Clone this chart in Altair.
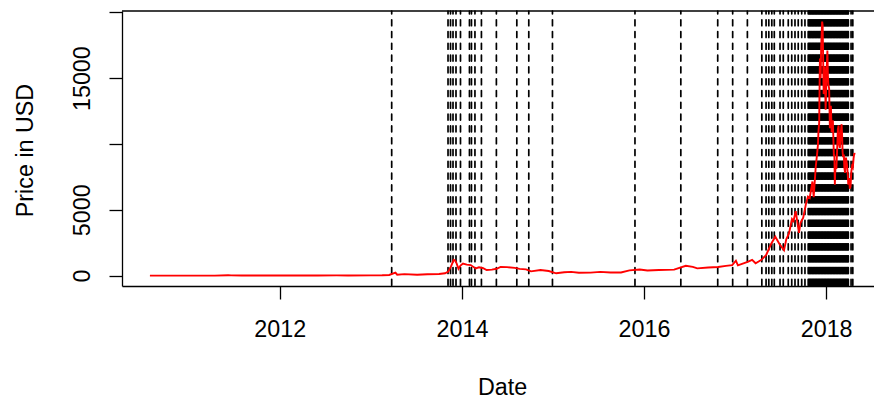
import altair as alt
import pandas as pd

# Daily-close style price samples (USD)
price_dates = [
    "2010-07-29", "2010-10-01", "2011-01-01", "2011-02-10", "2011-04-15",
    "2011-06-08", "2011-06-20", "2011-08-01", "2011-10-20", "2011-12-31",
    "2012-03-01", "2012-06-01", "2012-08-16", "2012-10-01", "2012-12-31",
    "2013-02-15", "2013-03-15", "2013-04-09", "2013-04-16", "2013-05-15",
    "2013-07-05", "2013-08-15", "2013-10-01", "2013-10-25", "2013-11-07",
    "2013-11-18", "2013-11-29", "2013-12-04", "2013-12-10", "2013-12-18",
    "2013-12-26", "2014-01-05", "2014-01-20", "2014-02-05", "2014-02-25",
    "2014-03-10", "2014-03-25", "2014-04-10", "2014-05-01", "2014-05-20",
    "2014-06-05", "2014-07-01", "2014-08-01", "2014-08-20", "2014-09-15",
    "2014-10-05", "2014-11-12", "2014-12-15", "2015-01-14", "2015-02-15",
    "2015-03-15", "2015-04-15", "2015-06-01", "2015-07-10", "2015-08-20",
    "2015-10-01", "2015-11-04", "2015-12-15", "2016-01-15", "2016-03-01",
    "2016-05-01", "2016-06-17", "2016-07-15", "2016-08-02", "2016-09-15",
    "2016-10-25", "2016-11-25", "2016-12-20", "2017-01-04", "2017-01-12",
    "2017-02-20", "2017-03-10", "2017-03-24", "2017-04-15", "2017-05-05",
    "2017-05-25", "2017-06-11", "2017-06-27", "2017-07-16", "2017-07-25",
    "2017-08-05", "2017-08-17", "2017-08-23", "2017-09-01", "2017-09-14",
    "2017-09-20", "2017-10-01", "2017-10-12", "2017-10-20", "2017-10-27",
    "2017-11-07", "2017-11-12", "2017-11-20", "2017-11-26", "2017-11-29",
    "2017-12-01", "2017-12-04", "2017-12-07", "2017-12-08", "2017-12-10",
    "2017-12-12", "2017-12-16", "2017-12-18", "2017-12-20", "2017-12-22",
    "2017-12-24", "2017-12-26", "2017-12-28", "2017-12-30", "2018-01-02",
    "2018-01-06", "2018-01-08", "2018-01-10", "2018-01-13", "2018-01-16",
    "2018-01-17", "2018-01-20", "2018-01-23", "2018-01-26", "2018-01-28",
    "2018-02-01", "2018-02-03", "2018-02-05", "2018-02-06", "2018-02-08",
    "2018-02-11", "2018-02-14", "2018-02-17", "2018-02-20", "2018-02-22",
    "2018-02-25", "2018-03-01", "2018-03-04", "2018-03-06", "2018-03-08",
    "2018-03-10", "2018-03-13", "2018-03-15", "2018-03-18", "2018-03-20",
    "2018-03-22", "2018-03-25", "2018-03-28", "2018-03-31", "2018-04-03",
    "2018-04-06", "2018-04-09", "2018-04-12", "2018-04-15", "2018-04-18",
    "2018-04-21", "2018-04-24", "2018-04-26",
]
price_usd = [
    0.07, 0.06, 0.3, 1.0, 1.0,
    29.6, 17, 13, 2.3, 4.7,
    4.9, 5.3, 13.5, 12.4, 13.5,
    27, 47, 230, 68, 115,
    70, 100, 125, 180, 300,
    700, 1200, 1150, 950, 520,
    760, 920, 830, 800, 540,
    630, 580, 420, 450, 520,
    660, 640, 590, 510, 470,
    320, 420, 350, 175, 250,
    285, 220, 225, 285, 235,
    237, 400, 460, 385, 430,
    450, 750, 660, 550, 610,
    650, 740, 800, 1130, 780,
    1050, 1200, 940, 1180, 1550,
    2400, 2950, 2420, 1930, 2750,
    3200, 4300, 4150, 4900, 3250,
    4000, 4400, 5450, 6000, 5900,
    7150, 5950, 8200, 9300, 9900,
    10900, 11600, 16500, 16000, 15000,
    17300, 19300, 19000, 16500, 13800,
    13900, 15900, 14500, 12600, 15000,
    17100, 15200, 14500, 14200, 11200,
    11300, 12900, 10900, 11200, 11800,
    9100, 9200, 6900, 7700, 8300,
    8100, 9500, 11100, 11400, 10000,
    9700, 10900, 11500, 10700, 9400,
    9000, 9200, 8200, 7800, 8900,
    8900, 8500, 7900, 6900, 7400,
    6600, 6800, 7900, 8300, 8200,
    8900, 9300, 9200,
]

# Detected change points
change_dates = [
    "2013-03-25", "2013-11-06", "2013-11-16", "2013-11-26", "2013-12-08",
    "2013-12-26", "2014-01-31", "2014-02-08", "2014-02-22", "2014-03-20",
    "2014-05-19", "2014-08-09", "2014-09-26", "2014-12-30", "2015-11-26",
    "2016-05-28", "2016-10-23", "2016-12-22", "2017-02-19", "2017-04-18",
    "2017-05-05", "2017-05-16", "2017-05-28", "2017-06-07", "2017-06-30",
    "2017-07-13", "2017-08-02", "2017-08-16", "2017-08-29", "2017-09-11",
    "2017-09-25", "2017-10-08",
    "2017-10-21", "2017-10-24", "2017-10-27", "2017-10-30", "2017-11-02",
    "2017-11-05", "2017-11-08", "2017-11-11", "2017-11-14", "2017-11-17",
    "2017-11-20", "2017-11-23", "2017-11-26", "2017-11-29", "2017-12-02",
    "2017-12-05", "2017-12-08", "2017-12-11", "2017-12-14", "2017-12-17",
    "2017-12-20", "2017-12-23", "2017-12-26", "2017-12-29", "2018-01-01",
    "2018-01-04", "2018-01-07", "2018-01-10", "2018-01-13", "2018-01-16",
    "2018-01-19", "2018-01-22", "2018-01-25", "2018-01-28", "2018-01-31",
    "2018-02-03", "2018-02-06", "2018-02-09", "2018-02-12", "2018-02-15",
    "2018-02-18", "2018-02-21", "2018-02-24", "2018-02-27", "2018-03-02",
    "2018-03-05", "2018-03-08", "2018-03-11", "2018-03-14", "2018-03-17",
    "2018-03-20", "2018-03-23", "2018-03-26", "2018-03-29", "2018-03-31",
    "2018-04-11", "2018-04-18",
]

year_ticks = [2012, 2014, 2016, 2018]
price_ticks = [0, 5000, 10000, 15000, 20000]
shown_price_labels = [0, 5000, 15000]

prices = pd.DataFrame({"date": price_dates, "price": price_usd})
changes = pd.DataFrame({"date": change_dates})
border = pd.DataFrame({"k": [0]})

W, H = 752, 275
FONT = "Liberation Sans"

x_scale = alt.Scale(
    type="utc",
    domain=[alt.DateTime(year=2010, month=4, date=8, utc=True),
            alt.DateTime(year=2018, month=7, date=12, utc=True)],
)
y_scale = alt.Scale(domain=[-790, 20100], nice=False, zero=False)

x_axis = alt.Axis(
    title="Date",
    values=[alt.DateTime(year=y, month=1, date=1, utc=True) for y in year_ticks],
    labelExpr="utcFormat(datum.value, '%Y')",
    labelPadding=19.7,
    labelBaseline="top",
    titleX=380,
    titleY=108.3,
    titleAlign="center",
    titleBaseline="alphabetic",
)
label_test = " || ".join(f"datum.value == {v}" for v in shown_price_labels)
y_axis = alt.Axis(
    title="Price in USD",
    values=price_ticks,
    labelExpr=f"({label_test}) ? '' + datum.value : ''",
    labelAngle=270,
    labelAlign="center",
    labelBaseline="alphabetic",
    labelPadding=19.7,
    titleAngle=270,
    titleX=-89.4,
    titleY=139,
    titleAlign="center",
    titleBaseline="alphabetic",
)

vlines = alt.Chart(changes).mark_rule(
    color="black", strokeWidth=1.7, strokeDash=[5.9, 5.9],
    strokeDashOffset=3.06, strokeCap="round",
).encode(
    x=alt.X("date:T", scale=x_scale, axis=x_axis),
)

line = alt.Chart(prices).mark_line(color="#ff0000", strokeWidth=1.9).encode(
    x=alt.X("date:T", scale=x_scale, axis=x_axis),
    y=alt.Y("price:Q", scale=y_scale, axis=y_axis),
)

top_edge = alt.Chart(border).mark_rule(color="black", strokeWidth=1.3).encode(
    x=alt.value(0), x2=alt.value(W), y=alt.value(0),
)

chart = (
    alt.layer(vlines, line, top_edge)
    .properties(
        width=W,
        height=H,
        autosize=alt.AutoSizeParams(type="none"),
        padding={"left": 122, "top": 11, "right": 0, "bottom": 117},
    )
    .configure_view(strokeWidth=0)
    .configure_axis(
        grid=False,
        labelFont=FONT,
        titleFont=FONT,
        labelFontSize=23.3,
        titleFontSize=23.3,
        titleFontWeight="normal",
        labelColor="black",
        titleColor="black",
        domainColor="black",
        tickColor="black",
        domainWidth=1.3,
        tickWidth=1.3,
        tickSize=13,
        labelOverlap=False,
        labelFlush=False,
    )
)

chart.save("out.html", embed_options={"renderer": "svg", "actions": False})
